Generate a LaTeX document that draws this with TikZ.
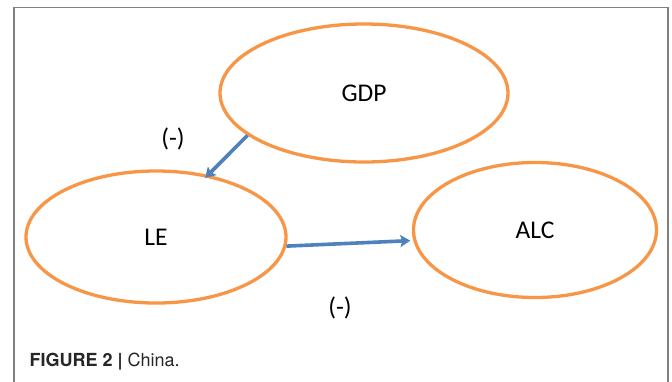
\documentclass[tikz,border=0pt]{standalone}
\usepackage{fontspec}
\usepackage{xcolor}
\setmainfont{Carlito}
\newfontfamily\capfont{TeX Gyre Heros}
\usetikzlibrary{shapes.geometric,arrows.meta}
\definecolor{ringorange}{RGB}{247,150,70}
\definecolor{linkblue}{RGB}{79,129,189}

\begin{document}
\begin{tikzpicture}[x=1pt, y=-1pt,
    var/.style={ellipse, draw=ringorange, line width=3.3pt, inner sep=0pt,
                font=\fontsize{25.5}{30}\selectfont},
    link/.style={draw=linkblue, line width=3.6pt,
                 -{Stealth[length=10pt,width=12pt,inset=2pt]}},
    sign/.style={font=\fontsize{25.5}{30}\selectfont}]
    \useasboundingbox (0,0) rectangle (672,381);
    \draw[gray, line width=1.2pt] (14,390) -- (14,7.5) -- (668,7.5) -- (668,390);
    \node[var, minimum width=288pt, minimum height=138pt] (gdp) at (364,93) {GDP};
    \node[var, minimum width=260pt, minimum height=132pt] (le) at (156,237) {LE};
    \node[var, minimum width=243pt, minimum height=135pt] (alc) at (535,230) {ALC};
    \draw[link] (gdp.200) -- ([shift={(-3pt,-3pt)}]le.50);
    \draw[link] (le.-4) -- ([xshift=-3pt]alc.185);
    \node[sign] (s1) at (173,139) {(-)};
    \node[sign] (s2) at (340,308) {(-)};
    \node[anchor=west, font=\capfont\fontsize{18}{21}\selectfont, text=black!85] (cap) at (26,362)
        {\textbf{FIGURE 2 |} China.};
\end{tikzpicture}
\end{document}
